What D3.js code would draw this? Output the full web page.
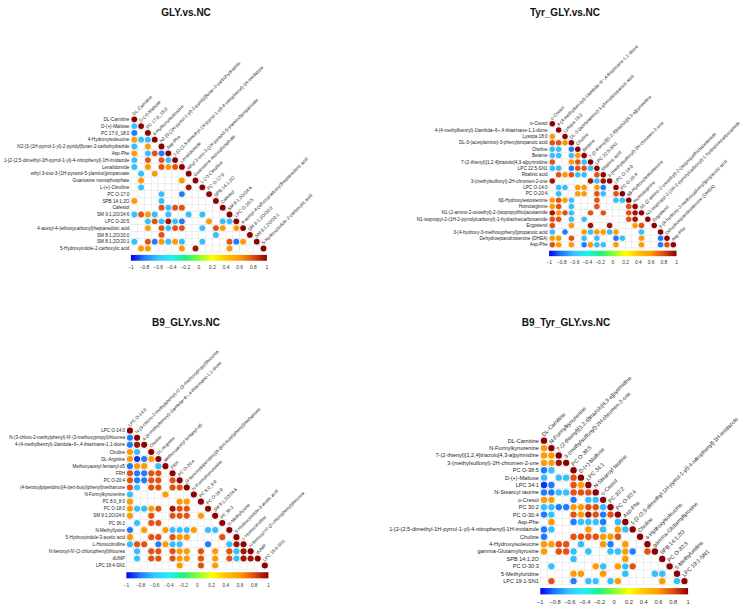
<!DOCTYPE html>
<html lang="en">
<head>
<meta charset="UTF-8" />
<title>Correlation plots</title>
<script src="https://d3js.org/d3.v7.min.js"></script>
<style>
  body { margin: 0; background: #fff; }
  svg { font-family: "Liberation Sans", Arial, sans-serif; }
</style>
</head>
<body>
<svg id="chart" width="746" height="611"></svg>
<script>
  // correlation level, "." = not shown
  const codeValues = { B: -0.92, b: -0.8, c: -0.62, o: 0.6, O: 0.78, R: 0.95 };
  const colorTicks = [-1, -0.8, -0.6, -0.4, -0.2, 0, 0.2, 0.4, 0.6, 0.8, 1];

  const labelsGLY = ["DL-Carnitine", "D-(+)-Maltose", "PC 17:0_18:0", "4-Hydroxyisoleucine",
    "N2-[3-(1H-pyrrol-1-yl)-2-pyridyl]furan-2-carbohydrazide", "Asp-Phe",
    "1-[2-(2,5-dimethyl-1H-pyrrol-1-yl)-4-nitrophenyl]-1H-imidazole", "Lenalidomide",
    "ethyl 3-oxo-3-(1H-pyrazol-5-ylamino)propanoate", "Guanosine monophosphate", "L-(+)-Citrulline",
    "PC O-17:0", "SPB 14:1;2O", "Cafestol", "SM 9:1;2O/24:6", "LPC O-20:5",
    "4-acetyl-4-(ethoxycarbonyl)heptanedioic acid", "SM 8:1;2O/20:0", "SM 8:1;2O/20:1",
    "5-Hydroxyindole-2-carboxylic acid"];
  const cellsGLY = ["", "c", "b.", "occ", "c.o.", "o.cOb", "c.O.Oc", "c.o.OoO", ".c.o....", ".o.....o.",
    ".c......R.", "....c..b...", "o...c.......", "....OcOO.....", "cOoc.c..c.c...",
    "..cOcRcb...o.cc", "..o.OcOO..c.Oo.o", "....O.......c....", "c.Obococ..c...Obo.",
    ".oo....o.R....o...."];

  const labelsTyr = ["o-Cresol", "4-(4-methylbenzyl)-1lambda~6~,4-thiazinane-1,1-dione", "Lysopa 18:0",
    "DL-3-(acetylamino)-3-phenylpropanoic acid", "Choline", "Betaine",
    "7-(2-thienyl)[1,2,4]triazolo[4,3-a]pyrimidine", "LPC 22:5-SN1", "Ritalinic acid",
    "3-(methylsulfonyl)-2H-chromen-2-one", "LPC O-14:0", "PC O-20:4", "6\u03b2-Hydroxytestosterone",
    "Homoarginine", "N1-(2-amino-2-oxoethyl)-2-(isopropylthio)acetamide",
    "N1-isopropyl-2-(1H-2-pyrrolylcarbonyl)-1-hydrazinecarboxamide", "Ergosterol",
    "3-(4-hydroxy-3-methoxyphenyl)propanoic acid", "Dehydroepiandrosterone (DHEA)", "Asp-Phe"];
  const cellsTyr = ["", ".", "o.", "OOo", "cc.b", "cc.co", "O..oOc", "cc.bOOc", ".OoOcc.O", "R.....RcR",
    ".cc.oo.ob.", ".c..oo.Oc.O", "oOoc...O..cc", "oO.c...O....O", "RoOc..O.O...OR",
    "OO.c.c......OR.", "O..o..R..R...oO.", "c.b..ocooco...c..", "oo.O.c.c..bc..o..b",
    "Oo.o.bocc.o...o..bO"];

  const labelsB9 = ["LPC O-14:0", "N-(3-chloro-2-methylphenyl)-N'-(3-methoxypropyl)thiourea",
    "4-(4-methylbenzyl)-1lambda~6~,4-thiazinane-1,1-dione", "Choline", "DL-Arginine",
    "Methoxyacetyl fentanyl-d5", "FRH", "PC O-20:4",
    "(4-benzoylpiperidino)[4-(tert-butyl)phenyl]methanone", "N-Formylkynurenine", "PC 8:0_8:0",
    "PC O-18:0", "SM 9:1;2O/24:6", "PC 36:2", "N-Methyllysine", "5-Hydroxyindole-3-acetic acid",
    "L-Homocitrulline", "N-benzoyl-N'-(2-chlorophenyl)thiourea", "dUMP", "LPC 18:4-SN1"];
  const cellsB9 = ["", "b", "bR", "oc.", "oBbo", "boo.c", "ObbOO.", "ObbOO.O", "Oc.OO.OO", "c....o...",
    "o......oo.", "occoO.ROO..", "o..O..OOO.o.", ".c.OO........", "b.o..occco.cc.",
    "o..OO.Ooo....O.", "cOO.bocc...b..cR", ".c.OO.Ooo.O.o.OcR", ".c.OO.Ooo.O.o.OcRR",
    ".......o..O.o......"];

  const labelsB9Tyr = ["DL-Carnitine", "N-Formylkynurenine", "7-(2-thienyl)[1,2,4]triazolo[4,3-a]pyrimidine",
    "3-(methylsulfonyl)-2H-chromen-2-one", "PC O-38:5", "D-(+)-Maltose", "LPC 34:1", "N-Stearoyl taurine",
    "o-Cresol", "PC 30:2", "PC O-30:4", "Asp-Phe",
    "1-[2-(2,5-dimethyl-1H-pyrrol-1-yl)-4-nitrophenyl]-1H-imidazole", "Choline", "4-Hydroxyisoleucine",
    "gamma-Glutamyltyrosine", "SPB 14:1;2O", "PC O-30:3", "5-Methyluridine", "LPC 19:1-SN1"];
  const cellsB9Tyr = ["", "o", "oo", "ooR", "bc..", "c.ccO", "Bb..Oo", "bbccOOO", "oo..b.cc", "ccbbooOOc",
    "bc..OoRObO", ".o..bcccb.c", "bc....o.c.oc", "b...OOOOooO..", "ooOO.c..ob.o..",
    "o.OOc.c..ccob.O", "....c......o....", ".c.....oc.ocO....", "....oo..o..c...cc.",
    ".O..b.cc.co.....o.c"];

  // labelWidth: pixel width of the longest row label in the reference
  const panels = [
    { title: "GLY.vs.NC", labels: labelsGLY, cells: cellsGLY, left: 130.9, top: 115.9, size: 136, tx: 186, ty: 16, labelWidth: 126 },
    { title: "Tyr_GLY.vs.NC", labels: labelsTyr, cells: cellsTyr, left: 549.1, top: 120.5, size: 127.4, tx: 565, ty: 16, labelWidth: 131 },
    { title: "B9_GLY.vs.NC", labels: labelsB9, cells: cellsB9, left: 126.4, top: 427.1, size: 142, tx: 186, ty: 326, labelWidth: 116 },
    { title: "B9_Tyr_GLY.vs.NC", labels: labelsB9Tyr, cells: cellsB9Tyr, left: 540.3, top: 437, size: 147.8, tx: 566, ty: 326, labelWidth: 150 }
  ];

  const color = d3.scaleLinear()
    .domain([-1, -0.8, -0.6, -0.4, -0.2, 0, 0.2, 0.4, 0.6, 0.8, 1])
    .range(["#0000f0", "#1e7cff", "#36c8ff", "#20f0f0", "#20f080", "#80ff30", "#ffff00",
            "#ffc400", "#ff9a00", "#e04a12", "#8b0000"]);

  const svg = d3.select("#chart");
  const defs = svg.append("defs");
  const grad = defs.append("linearGradient").attr("id", "cbar");
  d3.range(0, 1.0001, 0.05).forEach(t => {
    grad.append("stop").attr("offset", t).attr("stop-color", color(-1 + 2 * t));
  });

  panels.forEach(p => {
    const n = p.labels.length;
    const x = d3.scaleBand().domain(d3.range(n)).range([p.left, p.left + p.size]);
    const y = d3.scaleBand().domain(d3.range(n)).range([p.top, p.top + p.size]);
    const s = x.bandwidth();
    const g = svg.append("g");

    g.append("text")
      .attr("x", p.tx).attr("y", p.ty)
      .attr("text-anchor", "middle")
      .attr("font-size", 10).attr("font-weight", "bold")
      .attr("fill", "#111")
      .text(p.title);

    // cells of the lower triangle
    const cells = [];
    for (let i = 0; i < n; i++) {
      for (let j = 0; j <= i; j++) {
        const ch = j === i ? null : p.cells[i][j];
        cells.push({ i, j, v: j === i ? 1 : (codeValues[ch] ?? null) });
      }
    }

    g.append("g").selectAll("rect").data(cells).join("rect")
      .attr("x", d => x(d.j)).attr("y", d => y(d.i))
      .attr("width", s).attr("height", s)
      .attr("fill", "#fff").attr("stroke", "#e4e4e4").attr("stroke-width", 0.5);

    g.append("g").selectAll("circle").data(cells.filter(d => d.v !== null)).join("circle")
      .attr("cx", d => x(d.j) + s / 2).attr("cy", d => y(d.i) + s / 2)
      .attr("r", s * 0.43)
      .attr("fill", d => color(d.v));

    // row labels, sized so the longest one matches the reference width
    const rowText = g.append("g").selectAll("text").data(p.labels).join("text")
      .attr("x", p.left - 1.5)
      .attr("y", (d, i) => y(i) + s / 2)
      .attr("dy", "0.35em")
      .attr("text-anchor", "end")
      .attr("font-size", 10).attr("fill", "#222")
      .text(d => d);
    const longest = d3.max(rowText.nodes(), nd => nd.getComputedTextLength());
    const fs = 10 * p.labelWidth / longest;
    rowText.attr("font-size", fs);

    // diagonal labels
    g.append("g").selectAll("text").data(p.labels).join("text")
      .attr("transform", (d, i) => `translate(${x(i) + s * 0.5},${y(i) - s * 0.05}) rotate(-45)`)
      .attr("text-anchor", "start")
      .attr("font-size", fs).attr("fill", "#222")
      .text(d => d);

    // colour bar
    const barY = p.top + p.size + p.size * 0.022;
    const barH = p.size * 0.043;
    g.append("rect")
      .attr("x", p.left).attr("y", barY)
      .attr("width", p.size).attr("height", barH)
      .attr("fill", "url(#cbar)");

    const cx = d3.scaleLinear().domain([-1, 1]).range([p.left, p.left + p.size]);
    g.append("g").selectAll("text").data(colorTicks).join("text")
      .attr("x", d => cx(d))
      .attr("y", barY + barH + p.size * 0.062)
      .attr("text-anchor", "middle")
      .attr("font-size", fs * 1.05).attr("fill", "#333")
      .text(d => d3.format("")(d));
  });
</script>
</body>
</html>
